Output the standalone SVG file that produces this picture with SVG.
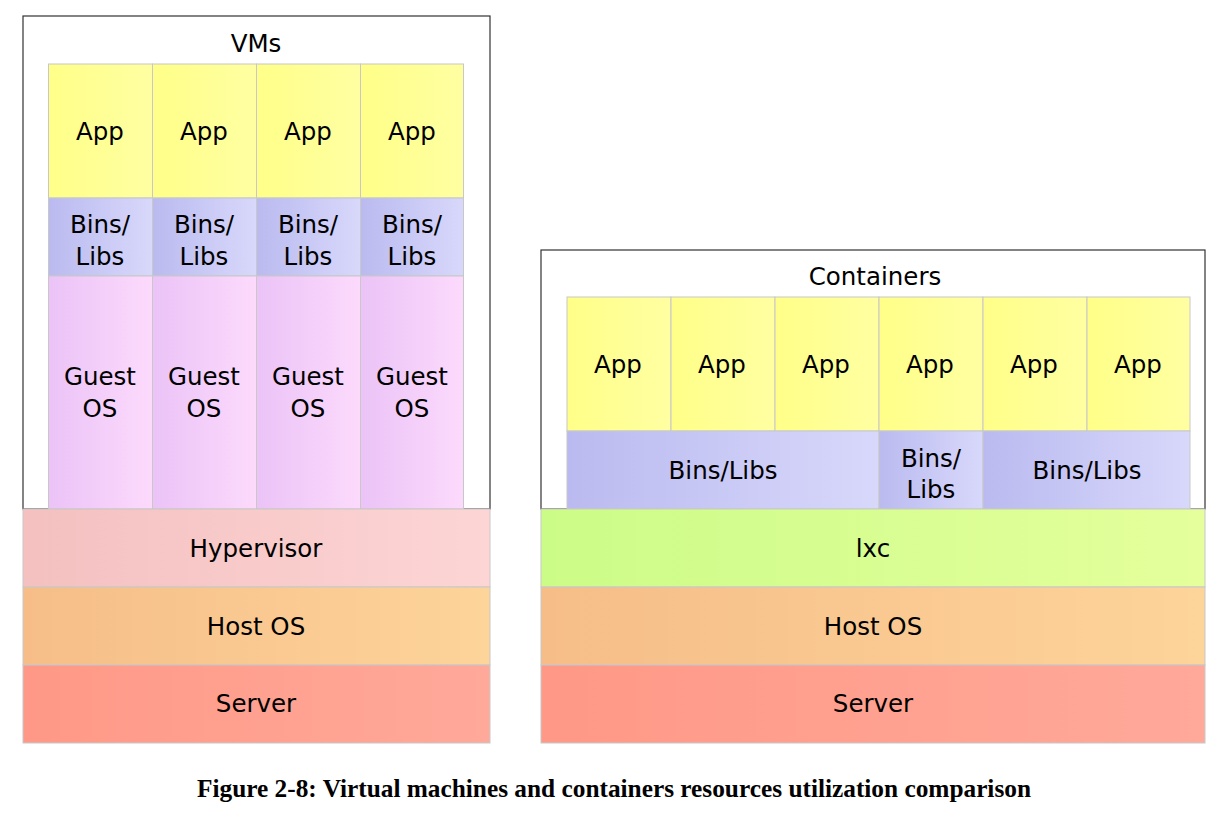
<svg xmlns="http://www.w3.org/2000/svg" width="1221" height="831" viewBox="0 0 1221 831">
<defs>
<linearGradient id="gApp" x1="0" y1="0" x2="1" y2="0"><stop offset="0" stop-color="#ffff88"/><stop offset="1" stop-color="#ffffa2"/></linearGradient>
<linearGradient id="gBins" x1="0" y1="0" x2="1" y2="0"><stop offset="0" stop-color="#babaf0"/><stop offset="1" stop-color="#d8d8fb"/></linearGradient>
<linearGradient id="gGuest" x1="0" y1="0" x2="1" y2="0"><stop offset="0" stop-color="#ebc3f7"/><stop offset="1" stop-color="#fcdafc"/></linearGradient>
<linearGradient id="gHyp" x1="0" y1="0" x2="1" y2="0"><stop offset="0" stop-color="#f4c0c0"/><stop offset="1" stop-color="#fdd5d5"/></linearGradient>
<linearGradient id="gHost" x1="0" y1="0" x2="1" y2="0"><stop offset="0" stop-color="#f6bd88"/><stop offset="1" stop-color="#fdd49a"/></linearGradient>
<linearGradient id="gServer" x1="0" y1="0" x2="1" y2="0"><stop offset="0" stop-color="#ff9886"/><stop offset="1" stop-color="#ffa99a"/></linearGradient>
<linearGradient id="gLxc" x1="0" y1="0" x2="1" y2="0"><stop offset="0" stop-color="#ccfc88"/><stop offset="1" stop-color="#e4ff9c"/></linearGradient>
</defs>
<style>
.frame{fill:#ffffff;stroke:#333333;stroke-width:1.2}
.cell{stroke:#c8c8c8;stroke-width:1}
.t{font-family:"DejaVu Sans",sans-serif;font-size:24.5px;fill:#000000;text-anchor:middle}
.cap{font-family:"Liberation Serif",serif;font-size:25px;font-weight:bold;fill:#000000;text-anchor:middle}
</style>
<rect width="1221" height="831" fill="#ffffff"/>

<g id="vms">
<rect class="frame" x="23" y="16" width="467" height="493"/>
<text class="t" x="256" y="52">VMs</text>
</g>
<g id="vm1">
<rect class="cell" x="48.5" y="64" width="104" height="134" fill="url(#gApp)"/>
<text class="t" x="100" y="140">App</text>
<rect class="cell" x="48.5" y="198" width="104" height="78" fill="url(#gBins)"/>
<text class="t" x="100" y="233">Bins/</text><text class="t" x="100" y="265">Libs</text>
<rect class="cell" x="48.5" y="276" width="104" height="233" fill="url(#gGuest)"/>
<text class="t" x="100" y="385">Guest</text><text class="t" x="100" y="417">OS</text>
</g>
<g id="vm2">
<rect class="cell" x="152.5" y="64" width="104" height="134" fill="url(#gApp)"/>
<text class="t" x="204" y="140">App</text>
<rect class="cell" x="152.5" y="198" width="104" height="78" fill="url(#gBins)"/>
<text class="t" x="204" y="233">Bins/</text><text class="t" x="204" y="265">Libs</text>
<rect class="cell" x="152.5" y="276" width="104" height="233" fill="url(#gGuest)"/>
<text class="t" x="204" y="385">Guest</text><text class="t" x="204" y="417">OS</text>
</g>
<g id="vm3">
<rect class="cell" x="256.5" y="64" width="104" height="134" fill="url(#gApp)"/>
<text class="t" x="308" y="140">App</text>
<rect class="cell" x="256.5" y="198" width="104" height="78" fill="url(#gBins)"/>
<text class="t" x="308" y="233">Bins/</text><text class="t" x="308" y="265">Libs</text>
<rect class="cell" x="256.5" y="276" width="104" height="233" fill="url(#gGuest)"/>
<text class="t" x="308" y="385">Guest</text><text class="t" x="308" y="417">OS</text>
</g>
<g id="vm4">
<rect class="cell" x="360.5" y="64" width="103" height="134" fill="url(#gApp)"/>
<text class="t" x="412" y="140">App</text>
<rect class="cell" x="360.5" y="198" width="103" height="78" fill="url(#gBins)"/>
<text class="t" x="412" y="233">Bins/</text><text class="t" x="412" y="265">Libs</text>
<rect class="cell" x="360.5" y="276" width="103" height="233" fill="url(#gGuest)"/>
<text class="t" x="412" y="385">Guest</text><text class="t" x="412" y="417">OS</text>
</g>
<g id="hypervisor">
<rect class="cell" x="23" y="509" width="467" height="78" fill="url(#gHyp)"/>
<text class="t" x="256" y="557">Hypervisor</text>
</g>
<g id="vm-hostos">
<rect class="cell" x="23" y="587" width="467" height="78" fill="url(#gHost)"/>
<text class="t" x="256" y="635">Host OS</text>
</g>
<g id="vm-server">
<rect class="cell" x="23" y="665" width="467" height="78" fill="url(#gServer)"/>
<text class="t" x="256" y="712">Server</text>
</g>

<g id="containers">
<rect class="frame" x="541" y="250" width="664" height="259"/>
<text class="t" x="875" y="285">Containers</text>
</g>
<g id="c-apps">
<rect class="cell" x="567" y="297" width="104" height="134" fill="url(#gApp)"/>
<text class="t" x="618" y="373">App</text>
<rect class="cell" x="671" y="297" width="104" height="134" fill="url(#gApp)"/>
<text class="t" x="722" y="373">App</text>
<rect class="cell" x="775" y="297" width="104" height="134" fill="url(#gApp)"/>
<text class="t" x="826" y="373">App</text>
<rect class="cell" x="879" y="297" width="104" height="134" fill="url(#gApp)"/>
<text class="t" x="930" y="373">App</text>
<rect class="cell" x="983" y="297" width="104" height="134" fill="url(#gApp)"/>
<text class="t" x="1034" y="373">App</text>
<rect class="cell" x="1087" y="297" width="103" height="134" fill="url(#gApp)"/>
<text class="t" x="1138" y="373">App</text>
</g>
<g id="c-bins1">
<rect class="cell" x="567" y="431" width="312" height="78" fill="url(#gBins)"/>
<text class="t" x="723" y="479">Bins/Libs</text>
</g>
<g id="c-bins2">
<rect class="cell" x="879" y="431" width="104" height="78" fill="url(#gBins)"/>
<text class="t" x="931" y="467">Bins/</text><text class="t" x="931" y="498">Libs</text>
</g>
<g id="c-bins3">
<rect class="cell" x="983" y="431" width="207" height="78" fill="url(#gBins)"/>
<text class="t" x="1087" y="479">Bins/Libs</text>
</g>
<g id="lxc">
<rect class="cell" x="541" y="509" width="664" height="78" fill="url(#gLxc)"/>
<text class="t" x="873" y="557">lxc</text>
</g>
<g id="c-hostos">
<rect class="cell" x="541" y="587" width="664" height="78" fill="url(#gHost)"/>
<text class="t" x="873" y="635">Host OS</text>
</g>
<g id="c-server">
<rect class="cell" x="541" y="665" width="664" height="78" fill="url(#gServer)"/>
<text class="t" x="873" y="712">Server</text>
</g>

<g id="connectors"></g>

<text class="cap" x="614" y="797" textLength="834" lengthAdjust="spacingAndGlyphs">Figure 2-8: Virtual machines and containers resources utilization comparison</text>
</svg>
